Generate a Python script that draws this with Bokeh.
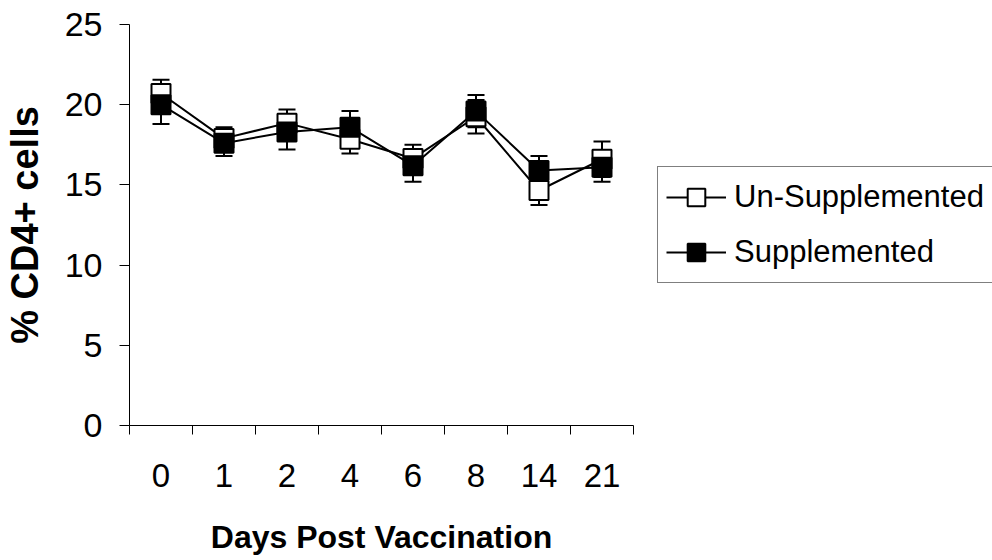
import numpy as np
from bokeh.plotting import figure
from bokeh.models import ColumnDataSource, Range1d, FixedTicker, Legend, LegendItem
from bokeh.embed import file_html
from bokeh.resources import INLINE

# ---- data ----
days = ["0", "1", "2", "4", "6", "8", "14", "21"]
unsupp = [20.7, 17.9, 18.85, 17.85, 16.65, 19.25, 14.65, 16.6]
unsupp_err = [0.85, 0.7, 0.85, 0.9, 0.85, 1.05, 0.9, 1.1]
supp = [20.0, 17.6, 18.3, 18.6, 16.2, 19.6, 15.9, 16.1]
supp_err = [1.2, 0.8, 1.1, 1.0, 1.0, 1.0, 0.9, 0.9]
y_ticks = [0, 5, 10, 15, 20, 25]
series_names = ["Un-Supplemented", "Supplemented"]

FONT = "Liberation Sans"

x = np.arange(len(days)) + 0.5

def make_src(vals, errs):
    v = np.array(vals)
    e = np.array(errs)
    return ColumnDataSource(dict(x=x, y=v, lo=v - e, hi=v + e))

src_u = make_src(unsupp, unsupp_err)
src_s = make_src(supp, supp_err)

p = figure(frame_width=504, frame_height=401, output_backend="svg", toolbar_location=None,
           x_range=Range1d(0, len(days)), y_range=Range1d(0, 25),
           min_border_left=128, min_border_right=360, min_border_top=24,
           min_border_bottom=135)
p.outline_line_color = None
p.xgrid.visible = False
p.ygrid.visible = False
p.background_fill_color = "white"
p.border_fill_color = "white"

# error bars and lines first
for src in (src_u, src_s):
    p.segment(x0="x", y0="lo", x1="x", y1="hi", source=src, line_color="black", line_width=2)
    p.scatter(x="x", y="lo", source=src, marker="dash", size=17, line_color="black", line_width=2)
    p.scatter(x="x", y="hi", source=src, marker="dash", size=17, line_color="black", line_width=2)

line_u = p.line(x="x", y="y", source=src_u, line_color="black", line_width=2)
line_s = p.line(x="x", y="y", source=src_s, line_color="black", line_width=2)
mk_u = p.scatter(x="x", y="y", source=src_u, marker="square", size=19,
                 fill_color="white", line_color="black", line_width=2)
mk_s = p.scatter(x="x", y="y", source=src_s, marker="square", size=19,
                 fill_color="black", line_color="black", line_width=2)

# x axis: labels at category centers, ticks at boundaries
xa = p.xaxis[0]
xa.ticker = FixedTicker(ticks=list(x), minor_ticks=list(range(len(days) + 1)))
xa.major_label_overrides = {float(xx): d for xx, d in zip(x, days)}
xa.major_tick_out = 0
xa.major_tick_in = 0
xa.minor_tick_out = 9
xa.minor_tick_in = 0
xa.minor_tick_line_color = "black"
xa.minor_tick_line_width = 1
xa.axis_line_color = "black"
xa.major_label_standoff = 29
xa.major_label_text_font = FONT
xa.major_label_text_font_size = "33px"
xa.major_label_text_color = "black"
xa.axis_label = "Days Post Vaccination"
xa.axis_label_text_font = FONT
xa.axis_label_text_font_style = "bold"
xa.axis_label_text_font_size = "32px"
xa.axis_label_text_color = "black"
xa.axis_label_standoff = 29

ya = p.yaxis[0]
ya.ticker = FixedTicker(ticks=y_ticks)
ya.minor_tick_line_color = None
ya.major_tick_out = 10
ya.major_tick_in = 0
ya.axis_line_color = "black"
ya.major_label_standoff = 17
ya.major_label_text_font = FONT
ya.major_label_text_font_size = "34px"
ya.major_label_text_color = "black"
ya.axis_label = "% CD4+ cells"
ya.axis_label_text_font = FONT
ya.axis_label_text_font_style = "bold"
ya.axis_label_text_font_size = "38px"
ya.axis_label_text_color = "black"
ya.axis_label_standoff = 16

legend = Legend(items=[LegendItem(label=series_names[0], renderers=[line_u, mk_u]),
                       LegendItem(label=series_names[1], renderers=[line_s, mk_s])],
                location=(24, 142))
legend.glyph_width = 60
legend.glyph_height = 44
legend.label_height = 44
legend.label_standoff = 8
legend.padding = 8
legend.spacing = 11
legend.margin = 0
legend.border_line_color = "black"
legend.border_line_width = 1
legend.background_fill_color = "white"
legend.label_text_font = FONT
legend.label_text_font_size = "31px"
legend.label_text_color = "black"
p.add_layout(legend, "right")

open("out.html", "w").write(file_html(p, INLINE))
